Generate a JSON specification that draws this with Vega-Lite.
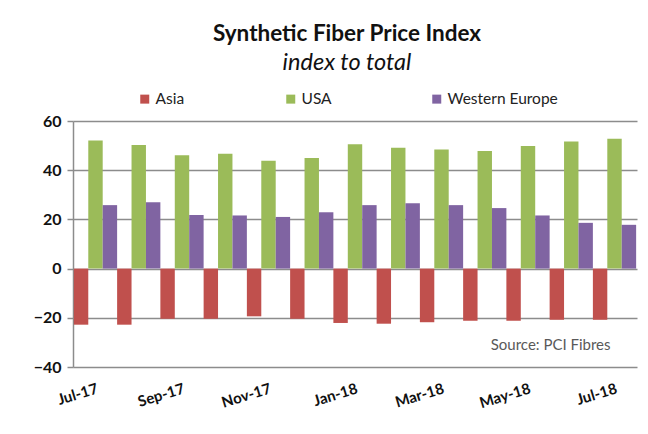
{
  "$schema": "https://vega.github.io/schema/vega-lite/v6.json",
  "width": 564,
  "height": 246,
  "autosize": {"type": "none"},
  "padding": {"left": 73, "top": 121, "right": 11, "bottom": 67},
  "background": "white",
  "config": {"view": {"stroke": null}, "font": "Lato"},
  "title": {
    "text": "Synthetic Fiber Price Index",
    "subtitle": "index to total",
    "anchor": "middle",
    "frame": "group",
    "offset": 17,
    "dx": -8,
    "font": "Lato",
    "fontSize": 22.5,
    "fontWeight": "bold",
    "color": "#111111",
    "subtitleFont": "Lato",
    "subtitleFontSize": 23.5,
    "subtitleFontStyle": "italic",
    "subtitleColor": "#111111",
    "subtitlePadding": 5
  },
  "datasets": {
    "bars": [
      {"month": "Jul-17", "region": "Asia", "value": -22.8},
      {"month": "Jul-17", "region": "USA", "value": 52.1},
      {"month": "Jul-17", "region": "Western Europe", "value": 25.8},
      {"month": "Aug-17", "region": "Asia", "value": -22.8},
      {"month": "Aug-17", "region": "USA", "value": 50.2},
      {"month": "Aug-17", "region": "Western Europe", "value": 27.0},
      {"month": "Sep-17", "region": "Asia", "value": -20.4},
      {"month": "Sep-17", "region": "USA", "value": 46.1},
      {"month": "Sep-17", "region": "Western Europe", "value": 21.8},
      {"month": "Oct-17", "region": "Asia", "value": -20.4},
      {"month": "Oct-17", "region": "USA", "value": 46.7},
      {"month": "Oct-17", "region": "Western Europe", "value": 21.6},
      {"month": "Nov-17", "region": "Asia", "value": -19.4},
      {"month": "Nov-17", "region": "USA", "value": 43.8},
      {"month": "Nov-17", "region": "Western Europe", "value": 21.0},
      {"month": "Dec-17", "region": "Asia", "value": -20.4},
      {"month": "Dec-17", "region": "USA", "value": 45.0},
      {"month": "Dec-17", "region": "Western Europe", "value": 22.9},
      {"month": "Jan-18", "region": "Asia", "value": -22.1},
      {"month": "Jan-18", "region": "USA", "value": 50.5},
      {"month": "Jan-18", "region": "Western Europe", "value": 25.8},
      {"month": "Feb-18", "region": "Asia", "value": -22.4},
      {"month": "Feb-18", "region": "USA", "value": 49.1},
      {"month": "Feb-18", "region": "Western Europe", "value": 26.6},
      {"month": "Mar-18", "region": "Asia", "value": -21.8},
      {"month": "Mar-18", "region": "USA", "value": 48.4},
      {"month": "Mar-18", "region": "Western Europe", "value": 25.8},
      {"month": "Apr-18", "region": "Asia", "value": -21.2},
      {"month": "Apr-18", "region": "USA", "value": 47.8},
      {"month": "Apr-18", "region": "Western Europe", "value": 24.6},
      {"month": "May-18", "region": "Asia", "value": -21.2},
      {"month": "May-18", "region": "USA", "value": 49.8},
      {"month": "May-18", "region": "Western Europe", "value": 21.6},
      {"month": "Jun-18", "region": "Asia", "value": -20.8},
      {"month": "Jun-18", "region": "USA", "value": 51.7},
      {"month": "Jun-18", "region": "Western Europe", "value": 18.6},
      {"month": "Jul-18", "region": "Asia", "value": -20.8},
      {"month": "Jul-18", "region": "USA", "value": 52.8},
      {"month": "Jul-18", "region": "Western Europe", "value": 17.8}
    ],
    "note": [
      {"month": "Jul-18", "value": -31.2, "label": "Source: PCI Fibres"}
    ]
  },
  "encoding": {
    "x": {
      "field": "month",
      "type": "ordinal",
      "sort": ["Jul-17", "Aug-17", "Sep-17", "Oct-17", "Nov-17", "Dec-17", "Jan-18", "Feb-18", "Mar-18", "Apr-18", "May-18", "Jun-18", "Jul-18"],
      "scale": {"paddingInner": 0, "paddingOuter": 0.02},
      "axis": {
        "title": null,
        "domain": false,
        "ticks": false,
        "grid": false,
        "labelAngle": -17,
        "labelAlign": "right",
        "labelBaseline": "top",
        "labelPadding": 14,
        "labelFont": "Lato",
        "labelFontSize": 15,
        "labelFontWeight": "bold",
        "labelColor": "#111111",
        "labelOverlap": false,
        "labelExpr": "indexof(['Jul-17','Sep-17','Nov-17','Jan-18','Mar-18','May-18','Jul-18'], datum.value) >= 0 ? datum.value : ''"
      }
    },
    "y": {
      "field": "value",
      "type": "quantitative",
      "scale": {"domain": [-40, 60], "nice": false},
      "axis": {
        "title": null,
        "values": [-40, -20, 0, 20, 40, 60],
        "domain": true,
        "domainColor": "#8c8c8c",
        "domainWidth": 1.5,
        "ticks": true,
        "tickColor": "#8c8c8c",
        "tickSize": 6,
        "tickWidth": 1.5,
        "grid": true,
        "gridColor": "#8c8c8c",
        "gridWidth": 1.5,
        "labelFont": "Lato",
        "labelFontSize": 16,
        "labelFontWeight": "bold",
        "labelColor": "#111111",
        "labelPadding": 6
      }
    }
  },
  "layer": [
    {
      "data": {"name": "bars"},
      "mark": {"type": "bar"},
      "encoding": {
        "xOffset": {
          "field": "region",
          "type": "nominal",
          "sort": ["Asia", "USA", "Western Europe"],
          "scale": {"paddingInner": 0, "paddingOuter": 0}
        },
        "color": {
          "field": "region",
          "type": "nominal",
          "sort": ["Asia", "USA", "Western Europe"],
          "scale": {"domain": ["Asia", "USA", "Western Europe"], "range": ["#C0504D", "#9BBB59", "#8064A2"]},
          "legend": {
            "title": null,
            "orient": "none",
            "legendX": 64,
            "legendY": -30,
            "direction": "horizontal",
            "gridAlign": "all",
            "columnPadding": 17,
            "symbolType": "square",
            "symbolSize": 81,
            "symbolStrokeWidth": 0,
            "labelFont": "Lato",
            "labelFontSize": 15.5,
            "labelColor": "#222222",
            "labelOffset": 3
          }
        }
      }
    },
    {
      "data": {"name": "note"},
      "mark": {"type": "text", "align": "right", "baseline": "middle", "dx": -4, "font": "Lato", "fontSize": 15, "color": "#595959"},
      "encoding": {
        "text": {"field": "label"}
      }
    }
  ]
}
